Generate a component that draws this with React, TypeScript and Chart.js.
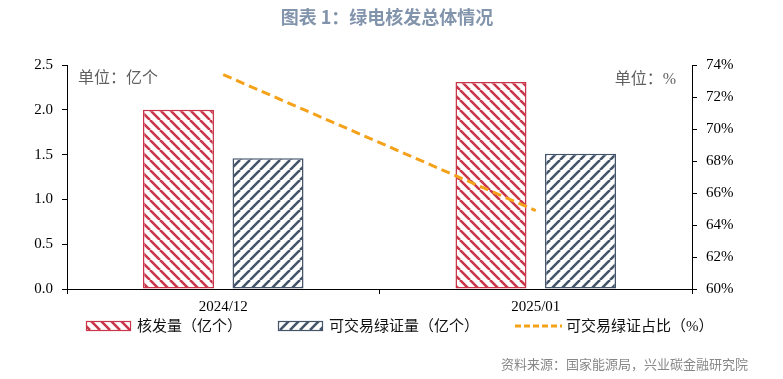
import React, { useEffect, useRef } from 'react';
import { Chart, registerables } from 'chart.js';

Chart.register(...registerables);

const categories = ['2024/12', '2025/01'];
const issuedVolume = [2.0, 2.31];
const tradableVolume = [1.46, 1.51];
const tradableShare = [73.4, 64.9];
const seriesNames = ['核发量（亿个）', '可交易绿证量（亿个）', '可交易绿证占比（%）'];
const titleText = '图表 1：绿电核发总体情况';
const leftUnit = '单位：亿个';
const rightUnit = '单位：%';
const sourceText = '资料来源：国家能源局，兴业碳金融研究院';

const RED = '#C9364A';
const BLUE = '#44546A';
const ORANGE = '#F5A21B';
const SERIF = "'Liberation Serif', 'Times New Roman', 'Noto Sans CJK SC', serif";
const SANS = "'Noto Sans CJK SC', 'Noto Sans', sans-serif";

function makeStripe(color: string, back: boolean): CanvasPattern | string {
  const s = 10;
  const c = document.createElement('canvas');
  c.width = s;
  c.height = s;
  const g = c.getContext('2d');
  if (!g) return color;
  g.fillStyle = '#ffffff';
  g.fillRect(0, 0, s, s);
  g.strokeStyle = color;
  g.lineWidth = 2.6;
  g.beginPath();
  for (let k = -1; k <= 1; k++) {
    if (back) {
      g.moveTo(k * s, 0);
      g.lineTo(k * s + s, s);
    } else {
      g.moveTo(k * s, s);
      g.lineTo(k * s + s, 0);
    }
  }
  g.stroke();
  const p = g.createPattern(c, 'repeat');
  return p || color;
}

const decorPlugin = {
  id: 'decor',
  afterDraw(chart: any) {
    const ctx = chart.ctx as CanvasRenderingContext2D;
    ctx.save();
    // title
    ctx.fillStyle = '#8294AC';
    ctx.font = `bold 18px ${SANS}`;
    ctx.textAlign = 'center';
    ctx.textBaseline = 'middle';
    ctx.fillText(titleText, 387, 17);
    // units
    ctx.fillStyle = '#5f5f5f';
    ctx.font = `16px ${SERIF}`;
    ctx.textAlign = 'left';
    ctx.fillText(leftUnit, 78, 79);
    ctx.textAlign = 'right';
    ctx.fillText(rightUnit, 676, 80);
    // legend
    const ds = chart.data.datasets;
    let x = 86;
    const y = 326;
    ctx.font = `15px ${SERIF}`;
    ctx.textAlign = 'left';
    ds.forEach((d: any) => {
      if (d.type === 'line') {
        ctx.strokeStyle = d.borderColor;
        ctx.lineWidth = 3;
        ctx.setLineDash([6, 3]);
        ctx.beginPath();
        ctx.moveTo(x, y);
        ctx.lineTo(x + 47, y);
        ctx.stroke();
        ctx.setLineDash([]);
      } else {
        ctx.fillStyle = d.backgroundColor;
        ctx.fillRect(x, y - 5, 45, 10);
        ctx.strokeStyle = d.borderColor;
        ctx.lineWidth = 1.2;
        ctx.strokeRect(x + 0.5, y - 4.5, 44, 9);
      }
      x += 51;
      ctx.fillStyle = '#111111';
      ctx.fillText(d.label, x, y + 1);
      x += ctx.measureText(d.label).width + 36;
    });
    // source
    ctx.fillStyle = '#888888';
    ctx.font = `13px ${SANS}`;
    ctx.textAlign = 'right';
    ctx.fillText(sourceText, 748, 364);
    ctx.restore();
  },
};

export default function App() {
  const ref = useRef<HTMLCanvasElement | null>(null);
  useEffect(() => {
    if (!ref.current) return;
    const redPat = makeStripe(RED, true);
    const bluePat = makeStripe(BLUE, false);
    const tickFont = { family: SERIF, size: 15 };
    const chart = new Chart(ref.current, {
      type: 'bar',
      data: {
        labels: categories,
        datasets: [
          {
            type: 'bar',
            label: seriesNames[0],
            data: issuedVolume,
            backgroundColor: redPat as any,
            borderColor: RED,
            borderWidth: 1.5,
            borderSkipped: false,
            yAxisID: 'y',
            order: 1,
            categoryPercentage: 0.573,
            barPercentage: 0.793,
          },
          {
            type: 'bar',
            label: seriesNames[1],
            data: tradableVolume,
            backgroundColor: bluePat as any,
            borderColor: BLUE,
            borderWidth: 1.5,
            borderSkipped: false,
            yAxisID: 'y',
            order: 1,
            categoryPercentage: 0.573,
            barPercentage: 0.793,
          },
          {
            type: 'line',
            label: seriesNames[2],
            data: tradableShare,
            borderColor: ORANGE,
            backgroundColor: ORANGE,
            borderWidth: 3,
            borderDash: [9, 5],
            pointRadius: 0,
            fill: false,
            tension: 0,
            yAxisID: 'y1',
            order: 0,
          } as any,
        ],
      },
      options: {
        animation: false,
        responsive: false,
        maintainAspectRatio: false,
        devicePixelRatio: 1,
        layout: { padding: { top: 65, left: 0, right: 0, bottom: 0 } },
        plugins: {
          legend: { display: false },
          title: { display: false },
          tooltip: { enabled: false },
        },
        scales: {
          x: {
            offset: true,
            grid: {
              offset: true,
              drawOnChartArea: false,
              drawTicks: true,
              tickLength: 5,
              color: '#000000',
            },
            border: { display: true, color: '#000000', width: 1 },
            ticks: { font: tickFont, color: '#000000', padding: 4, maxRotation: 0 },
            afterFit: (s: any) => {
              s.height = 90;
            },
          },
          y: {
            position: 'left',
            min: 0,
            max: 2.5,
            ticks: {
              stepSize: 0.5,
              font: tickFont,
              color: '#000000',
              padding: 9,
              callback: (v: any) => Number(v).toFixed(1),
            },
            grid: { drawOnChartArea: false, drawTicks: true, tickLength: 5, color: '#000000' },
            border: { display: true, color: '#000000', width: 1 },
            afterFit: (s: any) => {
              s.width = 67;
            },
          },
          y1: {
            position: 'right',
            min: 60,
            max: 74,
            ticks: {
              stepSize: 2,
              font: tickFont,
              color: '#000000',
              padding: 9,
              callback: (v: any) => `${v}%`,
            },
            grid: { drawOnChartArea: false, drawTicks: true, tickLength: 5, color: '#000000' },
            border: { display: true, color: '#000000', width: 1 },
            afterFit: (s: any) => {
              s.width = 91;
            },
          },
        },
      },
      plugins: [decorPlugin],
    });
    return () => chart.destroy();
  }, []);
  return (
    <div style={{ position: 'fixed', left: 0, top: 0, width: 783, height: 379, background: '#ffffff' }}>
      <canvas ref={ref} width={783} height={379} style={{ width: 783, height: 379, display: 'block' }} />
    </div>
  );
}
